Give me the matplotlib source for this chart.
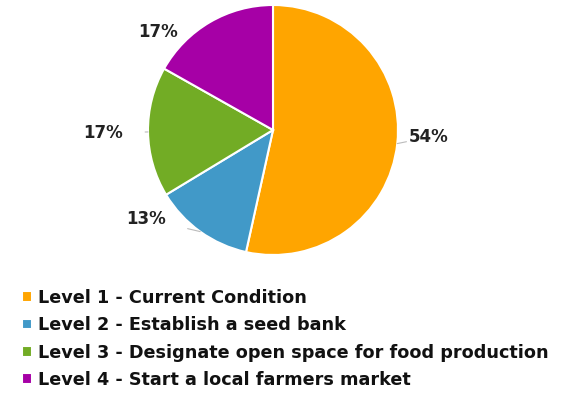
import numpy as np
import matplotlib.pyplot as plt

labels = ["Level 1 - Current Condition",
          "Level 2 - Establish a seed bank",
          "Level 3 - Designate open space for food production",
          "Level 4 - Start a local farmers market"]
values = [54, 13, 17, 17]
pct_text = ["54%", "13%", "17%", "17%"]
colors = ["#FFA500", "#4199C8", "#72AC25", "#A600A6"]

W, H = 576, 394
fig = plt.figure(figsize=(W/100, H/100), dpi=100)
plt.rcParams['font.family'] = ['DejaVu Sans']

# pie centre (273,130) px from top, radius 125 px
cx, cy, r = 273, 130, 125
ax = fig.add_axes([(cx-r)/W, (H-cy-r)/H, 2*r/W, 2*r/H])
wedges, _ = ax.pie(values, colors=colors, startangle=90, counterclock=False,
                   radius=1, wedgeprops=dict(edgecolor="white", linewidth=1.5))
ax.set_xlim(-1, 1)
ax.set_ylim(-1, 1)
ax.axis("off")

# label positions (angle deg, radius) and whether a leader line is drawn
lab_pos = [(-2.6, 1.25, True), (-145, 1.24, True), (181, 1.36, True), (139.6, 1.21, False)]
for w, t, (ang, rad, line) in zip(wedges, pct_text, lab_pos):
    mid = np.deg2rad((w.theta1 + w.theta2) / 2)
    a = np.deg2rad(ang)
    tx, ty = rad*np.cos(a), rad*np.sin(a)
    if line:
        ax.annotate(t, xy=(np.cos(mid), np.sin(mid)), xytext=(tx, ty),
                    ha="center", va="center", fontsize=12, fontweight="bold",
                    color="#222222", annotation_clip=False,
                    arrowprops=dict(arrowstyle="-", color="#bbbbbb", lw=0.8,
                                    shrinkA=14, shrinkB=0))
    else:
        ax.text(tx, ty, t, ha="center", va="center", fontsize=12,
                fontweight="bold", color="#222222")

fig.legend(wedges, labels, loc="upper left", bbox_to_anchor=(22/W, 1-289/H),
           frameon=False, borderpad=0, borderaxespad=0,
           handlelength=0.55, handleheight=0.55, handletextpad=0.33,
           labelspacing=0.53, prop=dict(size=12.7, weight="bold"), labelcolor="#111111")

fig.savefig("out.png", dpi=100)
